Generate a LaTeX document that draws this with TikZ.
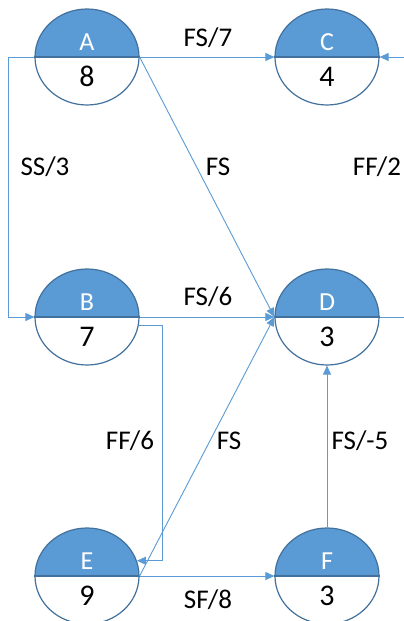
\documentclass[tikz,border=0pt]{standalone}
\usepackage{fontspec}
\setmainfont{Carlito}
\usetikzlibrary{shapes.geometric,arrows.meta}
\definecolor{nodefill}{HTML}{5B9BD5}
\definecolor{nodeborder}{HTML}{41719C}
\definecolor{conn}{HTML}{5B9BD5}
\tikzset{
  ev/.style={ellipse, draw=nodeborder, line width=1.2pt, minimum width=104pt, minimum height=96pt, inner sep=0pt},
  evline/.style={draw=nodeborder, line width=1.2pt},
  lettertext/.style={text=white, font=\fontsize{26}{30}\selectfont, anchor=base, inner sep=0pt},
  numtext/.style={text=black, font=\fontsize{30}{34}\selectfont, anchor=base, inner sep=0pt},
  lbl/.style={text=black, font=\fontsize{27}{31}\selectfont, anchor=base, inner sep=0pt},
  conn/.style={draw=conn, line width=0.9pt, -{Triangle[length=9pt,width=8pt]}},
  connplain/.style={draw=conn, line width=0.9pt}
}
\newcommand\evnode[5]{%
  \begin{scope}
    \clip (#2-60,#3) rectangle (#2+60,#3-60);
    \fill[nodefill] (#2,#3) ellipse [x radius=52, y radius=48];
  \end{scope}
  \node[ev] (#1) at (#2,#3) {};
  \draw[evline] (#1.west) -- (#1.east);
  \node[lettertext] (#1l) at (#2,#3-7) {#4};
  \node[numtext] (#1n) at (#2,#3+29) {#5};
}
\begin{document}
\begin{tikzpicture}[x=1pt,y=-1pt]
\clip (0,0) rectangle (404,621);
\fill[white] (0,0) rectangle (404,621);
\coordinate (ssl) at (8,57);
\coordinate (ffr) at (420,57);
\coordinate (bx) at (162,325);
\evnode{A}{87}{57}{A}{8}
\evnode{C}{327}{57}{C}{4}
\evnode{B}{87}{317}{B}{7}
\evnode{D}{327}{317}{D}{3}
\evnode{E}{87}{576}{E}{9}
\evnode{F}{327}{576}{F}{3}
\draw[conn] (A.east) -- (C.west);
\draw[conn] (A.east) -- (D.west);
\draw[conn] (A.west) -- (ssl) |- (B.west);
\draw[conn] (D.east) -- (D.east -| ffr) -- (ffr) -- (C.east);
\draw[conn] (B.east) -- (D.west);
\draw[conn] (B.-9) -- (B.-9 -| bx) |- (E.17);
\draw[conn] (E.east) -- (D.west);
\draw[conn] (E.east) -- (F.west);
\draw[conn] (F.north) -- (D.south);
% labels
\node[lbl] (l1) at (208,46) {FS/7};
\node[lbl] (l2) at (45,175) {SS/3};
\node[lbl] (l3) at (218,175) {FS};
\node[lbl] (l4) at (377,175) {FF/2};
\node[lbl] (l5) at (208,305) {FS/6};
\node[lbl] (l6) at (130,449) {FF/6};
\node[lbl] (l7) at (229,449) {FS};
\node[lbl] (l8) at (360,449) {FS/-5};
\node[lbl] (l9) at (208,608) {SF/8};
\end{tikzpicture}
\end{document}
